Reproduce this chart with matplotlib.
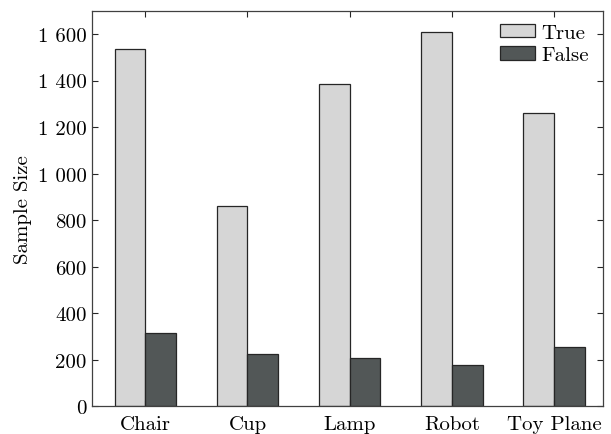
import numpy as np
import matplotlib
matplotlib.use('Agg')
import matplotlib.pyplot as plt
from matplotlib.ticker import FuncFormatter

plt.rcParams['font.family'] = ['cmr10', 'DejaVu Serif']
plt.rcParams['mathtext.fontset'] = 'cm'
plt.rcParams['axes.unicode_minus'] = False

# Datos
categorias = ['Chair', 'Cup', 'Lamp', 'Robot', 'Toy Plane']
valores_true = [1537, 860, 1383, 1610, 1262]
valores_false = [313, 224, 208, 176, 254]
etiquetas_series = ['True', 'False']

x = np.arange(1, len(categorias) + 1)
ancho = 0.3

fig = plt.figure(figsize=(6.11, 4.35), dpi=100)
ax = fig.add_axes([0.151, 0.0637, 0.8354, 0.9094])

ax.bar(x - ancho / 2, valores_true, ancho, color='#d6d6d6', edgecolor='#262626',
       linewidth=0.9, label=etiquetas_series[0])
ax.bar(x + ancho / 2, valores_false, ancho, color='#525757', edgecolor='#262626',
       linewidth=0.9, label=etiquetas_series[1])

ax.set_xlim(0.481, 5.476)
ax.set_ylim(0, 1700)
ax.set_xticks(x)
ax.set_xticklabels(categorias, fontsize=15)
ax.set_yticks(np.arange(0, 1601, 200))

# separador de miles con espacio
ax.yaxis.set_major_formatter(FuncFormatter(lambda v, p: f"{v:,.0f}".replace(',', ' ')))
ax.tick_params(axis='y', labelsize=15, pad=4)
ax.tick_params(direction='in', top=True, right=True, length=4, width=0.8, color='#262626')
ax.tick_params(axis='x', pad=6.5)

ax.set_ylabel('Sample Size', fontsize=15, labelpad=4)

for s in ax.spines.values():
    s.set_color('#404040')
    s.set_linewidth(0.9)

ax.legend(loc='upper right', frameon=False, fontsize=15, handlelength=1.7,
          handleheight=0.6, labelspacing=0.2, borderaxespad=0.25, handletextpad=0.3)

fig.savefig('out.png', dpi=100)
